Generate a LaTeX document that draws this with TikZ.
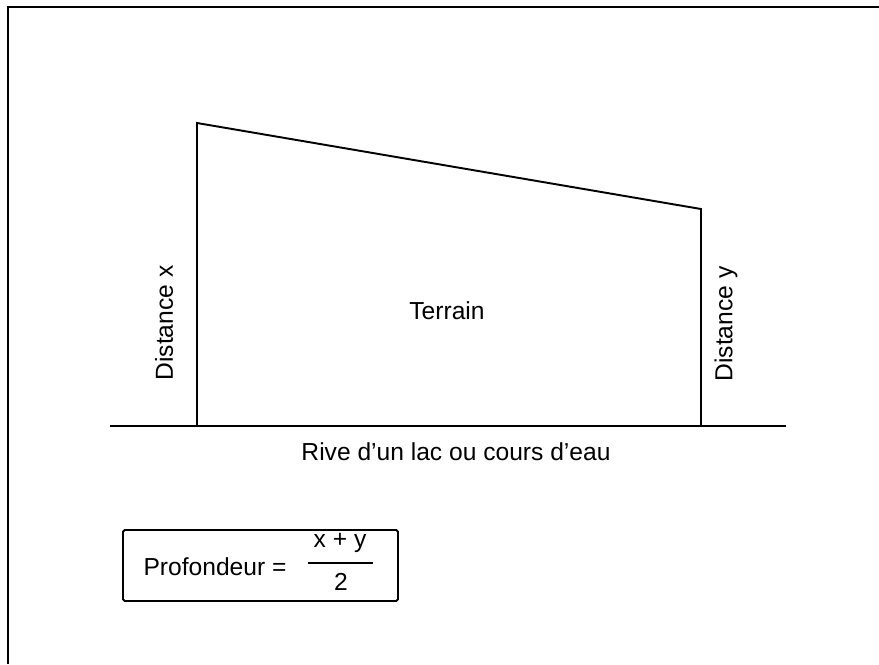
\documentclass[tikz,border=0pt]{standalone}
\usepackage{fontspec}
\setmainfont{Liberation Sans}
\usepackage{tikz}
\usetikzlibrary{positioning}
\tikzset{
	labeltext/.style={font=\fontsize{14}{16}\selectfont}
}
\tikzset{
	edge/.style={line width=1.1pt}
}

\begin{document}
\begin{tikzpicture}[x=0.02cm, y=-0.02cm]
      \useasboundingbox (0,0) rectangle (879,664);
      \draw[line width=1.5pt] (8,664) -- (8,7) -- (879,7);
      \coordinate (xbot) at (197,426);
      \coordinate (xtop) at (197,123);
      \coordinate (ytop) at (701,209);
      \coordinate (ybot) at (701,426);
      \coordinate (shoreL) at (110,426);
      \coordinate (shoreR) at (786,426);
      \draw[edge] (shoreL) -- (shoreR);
      \draw[edge] (xbot) -- (xtop) -- (ytop) -- (ybot);
      \node[labeltext] (terrain) at (447,311) {Terrain};
      \node[labeltext, rotate=90] (distx) at (164,323) {Distance x};
      \node[labeltext, rotate=90] (disty) at (726,324) {Distance y};
      \node[labeltext] (rive) at (456,452) {Rive d'un lac ou cours d'eau};
      % formule de la profondeur
      \draw[edge, rounded corners=1pt] (123,530) rectangle (398,601);
      \node[labeltext] (prof) at (215,567) {Profondeur =};
      \coordinate (barL) at (308,563);
      \coordinate (barR) at (373,563);
      \draw[line width=0.9pt] (barL) -- (barR);
      \node[labeltext] (num) at (340,543) {x + y};
      \node[labeltext] (den) at (341,582) {2};
    \end{tikzpicture}
\end{document}
